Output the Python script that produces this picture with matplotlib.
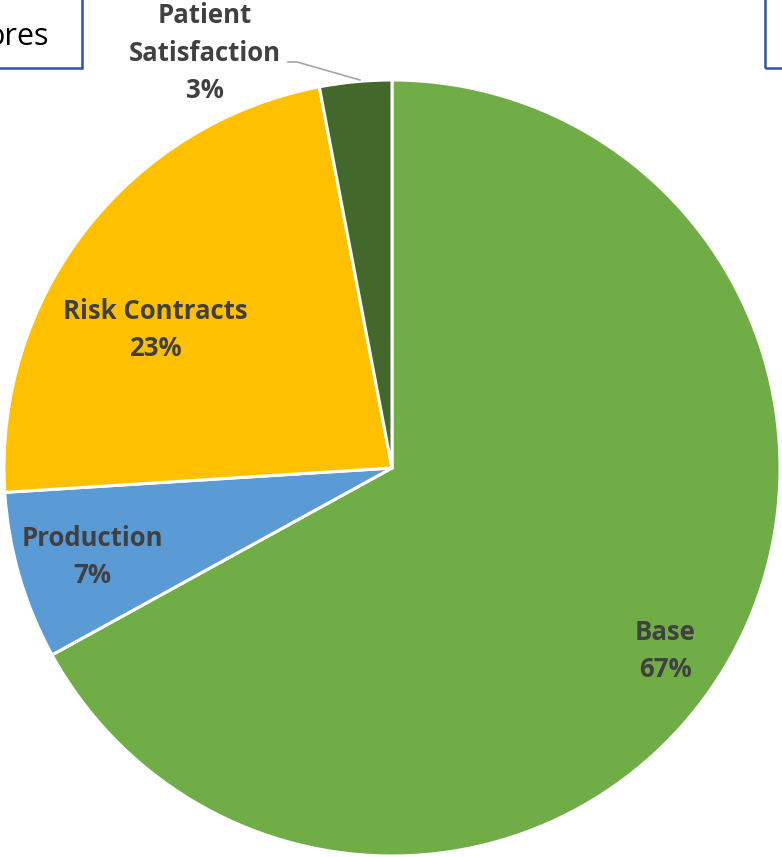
import matplotlib.pyplot as plt
from matplotlib.patches import Rectangle

categories = ['Base', 'Production', 'Risk Contracts', 'Patient\nSatisfaction']
shares = [67, 7, 23, 3]
colors = ['#70AD47', '#5B9BD5', '#FFC000', '#43682B']

# label anchor points in figure pixels (x, y from top)
label_pos = [(665, 651), (92, 557), (155, 330), (205, 53)]

W, H = 782, 857
fig = plt.figure(figsize=(W / 100, H / 100), dpi=100)
ax = fig.add_axes([0, 0, 1, 1])

cx, cy, r = 392, H - 468, 388
ax.pie(shares, colors=colors, startangle=90, counterclock=False,
       center=(cx, cy), radius=r, frame=True,
       wedgeprops=dict(edgecolor='white', linewidth=2.2))
ax.set_xlim(0, W)
ax.set_ylim(0, H)
ax.set_aspect('equal')
ax.axis('off')

for name, val, (x, y) in zip(categories, shares, label_pos):
    ax.text(x, H - y, f'{name}\n{val}%', ha='center', va='center',
            fontsize=18.5, fontweight='bold', color='#404040',
            family='Open Sans', linespacing=1.5)

# leader line for the small slice
ax.plot([288, 297, 360], [H - 62, H - 62, H - 80], color='#A6A6A6', lw=1.2)

# neighbouring text boxes, partly cut off
ax.add_patch(Rectangle((-10, H - 68), 92, 80, fill=False,
                       edgecolor='#2F5597', lw=1.8))
ax.text(49, H - 37, 'ores', ha='right', va='center', fontsize=22,
        family='Open Sans', color='black')
ax.add_patch(Rectangle((765, H - 68), 40, 80, fill=False,
                       edgecolor='#2F5597', lw=1.8))

fig.savefig('out.png', dpi=100)
